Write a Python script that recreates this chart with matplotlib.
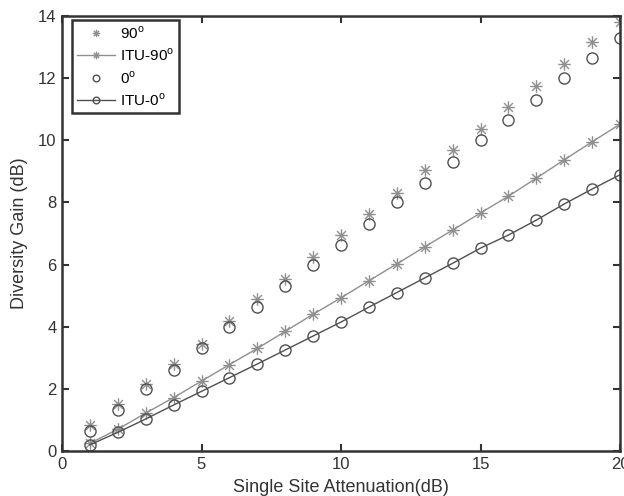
import matplotlib
matplotlib.use("Agg")
import matplotlib.pyplot as plt
from matplotlib.path import Path
import numpy as np

plt.rcParams['font.family'] = ['Liberation Sans', 'DejaVu Sans']
plt.rcParams['mathtext.fontset'] = 'custom'
plt.rcParams['mathtext.rm'] = 'Liberation Sans'

x = list(range(1, 21))
deg90 = [0.84, 1.5, 2.15, 2.8, 3.45, 4.2, 4.9, 5.55, 6.25, 6.95,
         7.63, 8.3, 9.05, 9.7, 10.37, 11.07, 11.75, 12.45, 13.15, 13.82]
itu90 = [0.25, 0.7, 1.22, 1.72, 2.25, 2.78, 3.3, 3.85, 4.4, 4.93,
         5.48, 6.02, 6.57, 7.11, 7.66, 8.2, 8.78, 9.37, 9.95, 10.52]
deg0 = [0.65, 1.33, 2.0, 2.62, 3.3, 4.0, 4.62, 5.3, 6.0, 6.63,
        7.3, 8.0, 8.62, 9.3, 10.0, 10.65, 11.3, 12.0, 12.65, 13.3]
itu0 = [0.2, 0.6, 1.03, 1.48, 1.92, 2.36, 2.8, 3.25, 3.7, 4.15,
        4.63, 5.1, 5.57, 6.04, 6.53, 6.95, 7.43, 7.95, 8.43, 8.89]

# asterisk marker (MATLAB-style '*': '+' overlaid with 'x')
d = 0.7071
verts = [(-1, 0), (1, 0), (0, -1), (0, 1), (-d, -d), (d, d), (-d, d), (d, -d)]
codes = [Path.MOVETO, Path.LINETO] * 4
aster = Path(verts, codes)

fig = plt.figure(figsize=(6.24, 4.96), dpi=100)
ax = fig.add_axes([62/624, 45/496, 558/624, 435/496])

light = '#8f8f8f'
dark = '#505050'
ax.plot(x, deg90, linestyle='none', marker=aster, color=light, markersize=9,
        markerfacecolor='none', markeredgewidth=1.0, label='90$^\\mathrm{o}$')
ax.plot(x, itu90, linestyle='-', marker=aster, color=light, markersize=9,
        markerfacecolor='none', linewidth=1.0, markeredgewidth=1.0,
        label='ITU-90$^\\mathrm{o}$')
ax.plot(x, deg0, linestyle='none', marker='o', color=dark, markersize=8,
        markerfacecolor='none', markeredgewidth=1.0, label='0$^\\mathrm{o}$')
ax.plot(x, itu0, linestyle='-', marker='o', color=dark, markersize=8,
        markerfacecolor='none', linewidth=1.0, markeredgewidth=1.0,
        label='ITU-0$^\\mathrm{o}$')

ax.set_xlim(0, 20)
ax.set_ylim(0, 14)
ax.set_xticks([0, 5, 10, 15, 20])
ax.set_yticks([0, 2, 4, 6, 8, 10, 12, 14])
ax.tick_params(direction='in', top=True, right=True, length=5, width=1.5,
               labelsize=12, colors='#333333', labelcolor='#333333', pad=4)
for s in ax.spines.values():
    s.set_linewidth(1.8)
    s.set_color('#333333')

ax.set_xlabel('Single Site Attenuation(dB)', fontsize=13, color='#333333', labelpad=5)
ax.set_ylabel('Diversity Gain (dB)', fontsize=13, color='#333333', labelpad=7)

leg = ax.legend(loc='upper left', fontsize=11, fancybox=False, framealpha=1,
                edgecolor='#333333', bbox_to_anchor=(10/558, 1 - 4/435),
                borderaxespad=0, handlelength=2.5, markerscale=0.6,
                labelspacing=0.38, borderpad=0.3, handletextpad=0.35)
leg.get_frame().set_linewidth(1.8)

fig.savefig('out.png', dpi=100)
